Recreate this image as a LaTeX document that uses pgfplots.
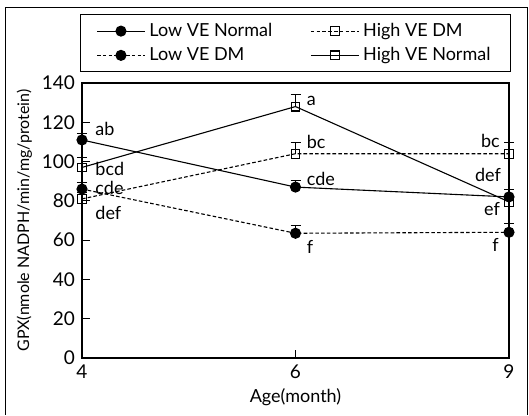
\documentclass[border=0pt]{standalone}
\usepackage{fontspec}
\setmainfont{Lato}
\usepackage{pgfplots}
\pgfplotsset{compat=1.18}

\begin{document}
\begin{tikzpicture}[font=\fontsize{9}{11}\selectfont]
\begin{axis}[
    name=ax,
    scale only axis,
    width=213.5pt, height=137.5pt,
    xmin=0, xmax=2, ymin=0, ymax=140,
    xtick={0,1,2}, xticklabels={4,6,9},
    ytick={0,20,...,140},
    tick align=inside,
    xtick pos=bottom, ytick pos=left,
    major tick length=4pt,
    axis line style={line width=0.6pt},
    tick style={line width=0.5pt, black},
    /pgf/number format/assume math mode=true,
    tick label style={font=\fontsize{9.5}{11}\selectfont},
    xlabel={Age(month)},
    ylabel={GPX(nmole NADPH/min/mg/protein)},
    ylabel style={font=\fontsize{8}{10}\selectfont, yshift=-2pt},
    xlabel style={yshift=2pt},
    clip=false,
    legend columns=2,
    legend cell align=left,
    legend style={at={(0.5,1)}, yshift=5.5pt, anchor=south,
        draw=black, line width=0.5pt, inner xsep=8pt, inner ysep=2pt,
        font=\fontsize{9}{11}\selectfont,
        /tikz/every even column/.append style={column sep=17pt}},
    legend image code/.code={\draw[mark repeat=2,mark phase=2] plot coordinates {(0cm,0cm) (0.42cm,0cm) (0.84cm,0cm)};},
    every axis plot/.append style={line width=0.55pt, black},
    dm/.style={dash pattern=on 1.8pt off 1.1pt},
    error bars/y dir=plus, error bars/y explicit,
    error bars/error mark options={rotate=90, mark size=2.5pt, line width=0.5pt},
    error bars/error bar style={line width=0.5pt, solid},
]
% Low VE Normal
\addplot[solid, mark=*, mark size=2.5pt] coordinates {
    (0,111) +- (0,3.5) (1,87) +- (0,3.5) (2,82) +- (0,4)
};
\addlegendentry{Low VE Normal}
% High VE DM
\addplot[dm, mark=square, mark size=2.2pt, mark options={solid}] coordinates {
    (0,81) +- (0,3) (1,104) +- (0,5.5) (2,104) +- (0,5.5)
};
\addlegendentry{High VE DM}
% Low VE DM
\addplot[dm, mark=*, mark size=2.5pt, mark options={solid}] coordinates {
    (0,86) +- (0,3.5) (1,63.5) +- (0,4) (2,64) +- (0,4.5)
};
\addlegendentry{Low VE DM}
% High VE Normal
\addplot[solid, mark=square, mark size=2.2pt] coordinates {
    (0,97) +- (0,5) (1,128) +- (0,6) (2,79.5) +- (0,3)
};
\addlegendentry{High VE Normal}

\node[anchor=west] at (axis cs:0.03,116.5) {ab};
\node[anchor=west] at (axis cs:0.03,96.5) {bcd};
\node[anchor=west] at (axis cs:0.03,86.5) {cde};
\node[anchor=west] at (axis cs:0.03,74) {def};
\node[anchor=west] at (axis cs:1.02,131) {a};
\node[anchor=west] at (axis cs:1.02,110) {bc};
\node[anchor=west] at (axis cs:1.02,91) {cde};
\node[anchor=west] at (axis cs:1.02,56.5) {f};
\node[anchor=east] at (axis cs:1.99,110.5) {bc};
\node[anchor=east] at (axis cs:1.995,93) {def};
\node[anchor=east] at (axis cs:1.99,76) {ef};
\node[anchor=east] at (axis cs:1.985,57.5) {f};
\end{axis}
\draw[line width=0.5pt] ([shift={(-38pt,-28.5pt)}]ax.south west) -- ([shift={(-38pt,37.5pt)}]ax.north west) -- ([shift={(9pt,37.5pt)}]ax.north east) -- ([shift={(9pt,-28.5pt)}]ax.south east);
\path ([shift={(-41pt,-28.5pt)}]ax.south west) rectangle ([shift={(10pt,41.5pt)}]ax.north east);
\end{tikzpicture}
\end{document}
